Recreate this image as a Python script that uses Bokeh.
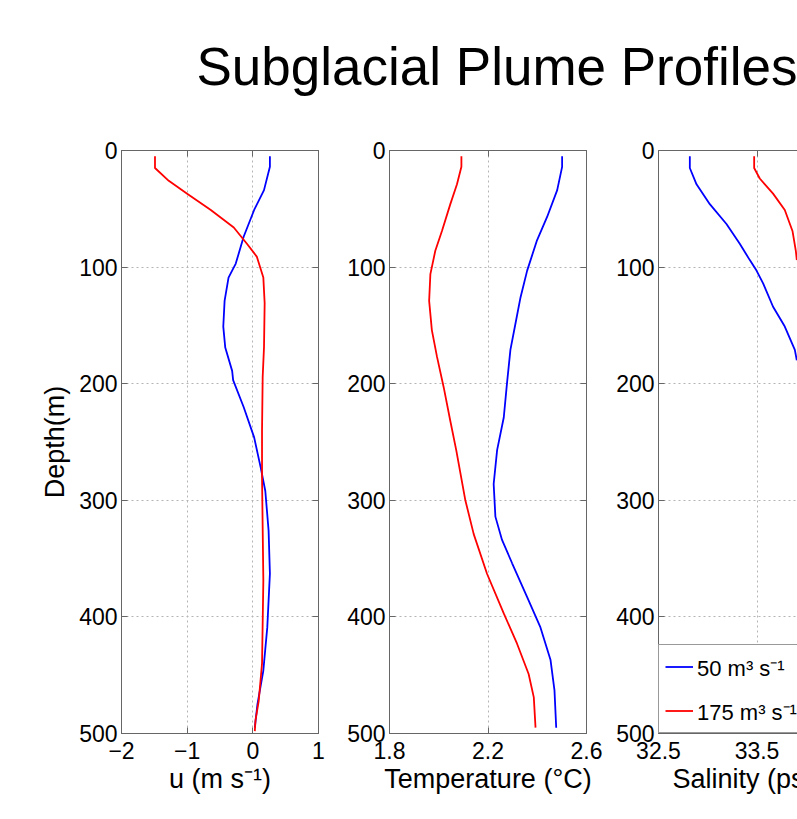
from bokeh.plotting import figure
from bokeh.layouts import column, row
from bokeh.models import Range1d, FixedTicker, LinearAxis, Label, Legend, LegendItem, Title
from bokeh.embed import file_html
from bokeh.resources import INLINE

TITLE = "Subglacial Plume Profiles"
SERIES = ["50 m³ s⁻¹", "175 m³ s⁻¹"]
COLORS = ["#0000ff", "#ff0000"]
X_LABELS = ["u (m s⁻¹)", "Temperature (°C)", "Salinity (psu)"]
Y_LABEL = "Depth(m)"

depth_ticks = [0, 100, 200, 300, 400, 500]
u_ticks = [-2, -1, 0, 1]
t_ticks = [1.8, 2.2, 2.6]
s_ticks = [32.5, 33.5, 34.5]

# Panel 1: velocity u
depth_u_50 = [5, 14, 34, 51, 74, 97, 109, 129, 151, 169, 189, 197, 220, 246, 272, 292, 326, 363, 409, 446, 475, 495]
u_50 = [0.26, 0.26, 0.17, 0.02, -0.14, -0.26, -0.37, -0.43, -0.45, -0.42, -0.315, -0.30, -0.14, 0.02, 0.12, 0.19, 0.24, 0.26, 0.22, 0.16, 0.07, 0.03]
depth_u_175 = [5, 15, 26, 37, 51, 66, 80, 91, 109, 131, 169, 194, 240, 280, 369, 440, 472, 489, 498]
u_175 = [-1.49, -1.49, -1.28, -1.0, -0.64, -0.29, -0.09, 0.06, 0.16, 0.18, 0.17, 0.15, 0.14, 0.14, 0.16, 0.14, 0.09, 0.04, 0.03]

# Panel 2: temperature
depth_t_50 = [5, 14, 34, 57, 77, 103, 126, 149, 171, 200, 229, 257, 286, 314, 334, 354, 383, 409, 437, 463, 495]
t_50 = [2.501, 2.501, 2.481, 2.440, 2.399, 2.359, 2.332, 2.311, 2.291, 2.277, 2.264, 2.237, 2.223, 2.230, 2.257, 2.298, 2.359, 2.413, 2.454, 2.470, 2.477]
depth_t_175 = [5, 14, 29, 46, 69, 86, 106, 129, 154, 177, 203, 232, 257, 300, 329, 363, 397, 423, 449, 469, 495]
t_175 = [2.092, 2.092, 2.074, 2.047, 2.013, 1.986, 1.966, 1.961, 1.972, 1.993, 2.020, 2.047, 2.071, 2.108, 2.142, 2.196, 2.264, 2.318, 2.365, 2.386, 2.393]

# Panel 3: salinity (cut off at right edge)
depth_s_50 = [5, 15, 29, 46, 63, 80, 94, 103, 114, 134, 151, 171, 180]
s_50 = [32.818, 32.818, 32.886, 33.021, 33.190, 33.325, 33.427, 33.495, 33.562, 33.663, 33.782, 33.884, 33.904]
depth_s_175 = [5, 15, 24, 37, 51, 69, 86, 94]
s_175 = [33.471, 33.471, 33.528, 33.663, 33.782, 33.860, 33.894, 33.904]

FONT = "Liberation Sans"
AX = "#666666"
GRID = "#b4b4b4"
FRAME_H = 583


def style_axis(ax, ticks, labels=True):
    ax.ticker = FixedTicker(ticks=ticks)
    ax.major_tick_in = 6
    ax.major_tick_out = 0
    ax.minor_tick_line_color = None
    ax.axis_line_color = AX
    ax.major_tick_line_color = AX
    ax.major_label_text_font = FONT
    if labels:
        ax.major_label_text_font_size = "23px"
        ax.major_label_text_color = "black"
    else:
        ax.major_label_text_font_size = "1px"
        ax.major_label_text_color = None
        ax.major_label_standoff = 0
    ax.axis_label_text_font = FONT
    ax.axis_label_text_font_size = "27px"
    ax.axis_label_text_font_style = "normal"
    ax.axis_label_text_color = "black"


def make_fig(xr, xticks, xgrid, left_b, frame_w, right_b, right_axis=True):
    p = figure(output_backend="svg", toolbar_location=None,
               frame_width=frame_w, frame_height=FRAME_H,
               x_range=xr, y_range=Range1d(500, 0),
               min_border_left=left_b, min_border_right=right_b,
               min_border_top=22, min_border_bottom=75)
    p.background_fill_color = "white"
    p.border_fill_color = "white"
    p.outline_line_color = AX if right_axis else None
    bottom = p.below[0]
    left = p.left[0]
    style_axis(bottom, xticks)
    style_axis(left, depth_ticks)
    bottom.major_label_standoff = 8
    bottom.axis_label_standoff = 2
    left.major_label_standoff = 4
    p.xgrid.ticker = FixedTicker(ticks=xgrid)
    p.ygrid.ticker = FixedTicker(ticks=[100, 200, 300, 400])
    for g in (p.xgrid, p.ygrid):
        g.grid_line_color = GRID
        g.grid_line_dash = "2 3"
        g.grid_line_width = 1
    top = LinearAxis()
    style_axis(top, xticks, labels=False)
    p.add_layout(top, "above")
    if right_axis:
        rt = LinearAxis()
        style_axis(rt, depth_ticks, labels=False)
        p.add_layout(rt, "right")
    return p, bottom, left


f1, b1, l1 = make_fig(Range1d(-2, 1), u_ticks, [-1, 0], 121, 197, 20)
b1.major_label_overrides = {-2: "−2", -1: "−1", 0: "0", 1: "1"}
b1.axis_label = X_LABELS[0]
l1.axis_label = Y_LABEL
l1.axis_label_standoff = 6
f1.line(u_50, depth_u_50, line_color=COLORS[0], line_width=1.8)
f1.line(u_175, depth_u_175, line_color=COLORS[1], line_width=1.8)

f2, b2, l2 = make_fig(Range1d(1.8, 2.6), t_ticks, [2.2], 51, 197, 20)
b2.axis_label = X_LABELS[1]
f2.line(t_50, depth_t_50, line_color=COLORS[0], line_width=1.8)
f2.line(t_175, depth_t_175, line_color=COLORS[1], line_width=1.8)

f3, b3, l3 = make_fig(Range1d(32.5, 33.911), s_ticks, [33.5], 52, 139, 0, right_axis=False)
r1 = f3.line(s_50, depth_s_50, line_color=COLORS[0], line_width=1.8)
r2 = f3.line(s_175, depth_s_175, line_color=COLORS[1], line_width=1.8)
f3.add_layout(Title(text=X_LABELS[2], align="left", offset=14, standoff=0,
                    text_font=FONT, text_font_size="27px",
                    text_font_style="normal", text_color="black"), "below")
legend = Legend(items=[LegendItem(label=SERIES[0], renderers=[r1]),
                       LegendItem(label=SERIES[1], renderers=[r2])],
                location="bottom_left", margin=0, padding=6, spacing=13,
                glyph_width=28, glyph_height=31, label_height=31,
                label_standoff=4, label_width=120,
                label_text_font=FONT, label_text_font_size="22px",
                label_text_color="black",
                border_line_color="#333333", border_line_width=1,
                background_fill_color="white", background_fill_alpha=1.0)
f3.add_layout(legend)

pt = figure(output_backend="svg", toolbar_location=None,
            frame_width=797, frame_height=128,
            x_range=Range1d(0, 797), y_range=Range1d(0, 128),
            x_axis_location=None, y_axis_location=None, min_border=0)
pt.grid.visible = False
pt.outline_line_color = None
pt.add_layout(Label(x=196, y=62, text=TITLE, text_font=FONT,
                    text_font_size="53px", text_baseline="alphabetic",
                    text_color="black"))

layout = column(pt, row(f1, f2, f3))
open("out.html", "w").write(file_html(layout, INLINE))
